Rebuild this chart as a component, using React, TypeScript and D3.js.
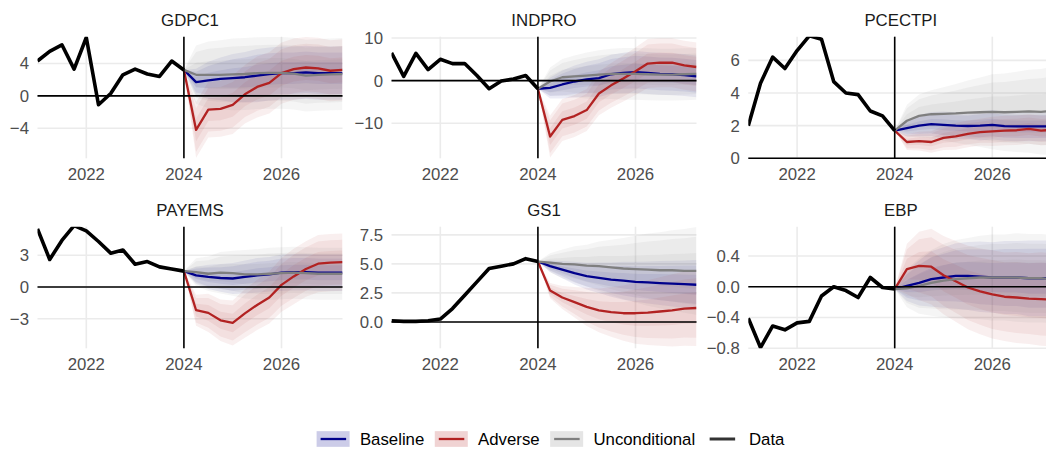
import React, { useEffect, useRef } from "react";
import * as d3 from "d3";

// quarterly dates (decimal years)
const dataQuarters = [2021, 2021.25, 2021.5, 2021.75, 2022, 2022.25, 2022.5, 2022.75, 2023, 2023.25, 2023.5, 2023.75, 2024];
const fcQuarters = [2024, 2024.25, 2024.5, 2024.75, 2025, 2025.25, 2025.5, 2025.75, 2026, 2026.25, 2026.5, 2026.75, 2027, 2027.25];
const xTicks = [2022, 2024, 2026];

// GDPC1
const gdpData = [4.3, 5.5, 6.3, 3.3, 7.2, -1.1, 0.3, 2.6, 3.3, 2.7, 2.4, 4.3, 3.2];
const gdpBaseline = [3.2, 1.7, 1.9, 2.1, 2.2, 2.3, 2.5, 2.7, 2.8, 2.8, 2.9, 2.8, 2.8, 2.8];
const gdpAdverse = [3.2, -4.2, -1.7, -1.6, -1.1, 0.2, 1.1, 1.6, 2.8, 3.3, 3.5, 3.4, 3.1, 3.2];
const gdpUncond = [3.2, 2.6, 2.6, 2.6, 2.65, 2.7, 2.8, 2.85, 2.85, 2.75, 2.5, 2.6, 2.65, 2.7];
const gdpBaselineSd = [0, 1.0, 1.4, 1.6, 1.8, 1.9, 2.0, 2.0, 2.0, 2.0, 2.0, 2.0, 2.0, 2.0];
const gdpAdverseSd = [0, 2.1, 2.1, 2.1, 2.2, 2.2, 2.3, 2.3, 2.3, 2.3, 2.3, 2.3, 2.3, 2.3];
const gdpUncondSd = [0, 2.2, 2.5, 2.6, 2.7, 2.7, 2.7, 2.7, 2.7, 2.7, 2.7, 2.7, 2.7, 2.7];

// INDPRO
const ipData = [6.5, 1.0, 6.4, 2.6, 5.0, 4.0, 4.0, 1.2, -1.9, -0.1, 0.4, 1.2, -1.9];
const ipBaseline = [-1.9, -1.7, -0.9, -0.2, 0.3, 0.6, 1.5, 1.8, 2.0, 1.8, 1.6, 1.5, 1.3, 1.0];
const ipAdverse = [-1.9, -13.1, -9.2, -8.3, -6.9, -3.0, -1.1, 0.5, 2.2, 4.0, 4.2, 4.2, 3.6, 3.2];
const ipUncond = [-1.9, -0.2, 0.8, 1.0, 1.2, 1.4, 1.6, 1.6, 1.6, 1.5, 1.4, 1.4, 1.5, 1.6];
const ipBaselineSd = [0, 1.5, 2.0, 2.3, 2.5, 2.7, 2.8, 2.9, 3.0, 3.0, 3.0, 3.0, 3.0, 3.0];
const ipAdverseSd = [0, 3.0, 3.0, 3.0, 3.0, 3.1, 3.2, 3.3, 3.4, 3.5, 3.5, 3.5, 3.5, 3.5];
const ipUncondSd = [0, 2.0, 2.6, 3.0, 3.3, 3.5, 3.6, 3.7, 3.7, 3.7, 3.7, 3.7, 3.7, 3.7];

// PCECTPI
const pceData = [2.0, 4.6, 6.2, 5.5, 6.6, 7.5, 7.3, 4.7, 4.0, 3.9, 2.9, 2.6, 1.7];
const pceBaseline = [1.7, 1.85, 2.0, 2.1, 2.05, 2.0, 1.98, 2.0, 2.05, 1.97, 1.95, 1.95, 1.95, 1.95];
const pceAdverse = [1.7, 1.0, 1.05, 1.0, 1.25, 1.35, 1.5, 1.6, 1.65, 1.7, 1.72, 1.8, 1.7, 1.75];
const pceUncond = [1.7, 2.3, 2.6, 2.7, 2.72, 2.75, 2.8, 2.82, 2.85, 2.82, 2.85, 2.88, 2.85, 2.9];
const pceBaselineSd = [0, 0.3, 0.4, 0.45, 0.5, 0.5, 0.5, 0.55, 0.55, 0.55, 0.55, 0.55, 0.55, 0.55];
const pceAdverseSd = [0, 0.3, 0.35, 0.4, 0.45, 0.5, 0.5, 0.5, 0.55, 0.55, 0.55, 0.55, 0.55, 0.55];
const pceUncondSd = [0, 0.6, 0.8, 0.9, 1.0, 1.1, 1.2, 1.3, 1.4, 1.45, 1.5, 1.55, 1.6, 1.65];

// PAYEMS
const payData = [5.5, 2.6, 4.4, 5.8, 5.3, 4.3, 3.2, 3.5, 2.15, 2.4, 1.9, 1.7, 1.5];
const payBaseline = [1.5, 1.1, 0.95, 0.85, 0.8, 0.95, 1.1, 1.2, 1.35, 1.4, 1.4, 1.35, 1.35, 1.35];
const payAdverse = [1.5, -2.2, -2.45, -3.15, -3.4, -2.5, -1.7, -1.0, 0.2, 1.0, 1.7, 2.2, 2.3, 2.35];
const payUncond = [1.5, 1.4, 1.25, 1.35, 1.3, 1.2, 1.2, 1.25, 1.3, 1.35, 1.3, 1.25, 1.25, 1.25];
const payBaselineSd = [0, 0.5, 0.7, 0.8, 0.9, 0.95, 1.0, 1.0, 1.05, 1.05, 1.05, 1.05, 1.05, 1.05];
const payAdverseSd = [0, 0.9, 1.1, 1.2, 1.3, 1.4, 1.45, 1.5, 1.55, 1.6, 1.6, 1.65, 1.65, 1.65];
const payUncondSd = [0, 0.8, 1.0, 1.2, 1.3, 1.4, 1.45, 1.5, 1.5, 1.5, 1.5, 1.5, 1.5, 1.5];

// GS1
const gsData = [0.1, 0.05, 0.05, 0.1, 0.25, 1.15, 2.3, 3.45, 4.6, 4.8, 5.0, 5.45, 5.2];
const gsBaseline = [5.2, 4.8, 4.5, 4.2, 3.95, 3.8, 3.65, 3.55, 3.45, 3.4, 3.35, 3.3, 3.25, 3.2];
const gsAdverse = [5.2, 2.7, 2.1, 1.7, 1.3, 1.0, 0.85, 0.75, 0.75, 0.8, 0.9, 1.0, 1.15, 1.2];
const gsUncond = [5.2, 5.1, 5.0, 4.95, 4.85, 4.8, 4.7, 4.6, 4.55, 4.5, 4.45, 4.45, 4.4, 4.4];
const gsBaselineSd = [0, 0.3, 0.45, 0.6, 0.7, 0.8, 0.9, 1.0, 1.05, 1.1, 1.15, 1.2, 1.25, 1.3];
const gsAdverseSd = [0, 0.4, 0.6, 0.8, 1.0, 1.15, 1.3, 1.45, 1.6, 1.7, 1.8, 1.9, 1.95, 2.0];
const gsUncondSd = [0, 0.5, 0.75, 0.95, 1.1, 1.3, 1.45, 1.6, 1.75, 1.9, 2.0, 2.1, 2.2, 2.3];

// EBP
const ebpData = [-0.41, -0.79, -0.51, -0.56, -0.47, -0.45, -0.12, 0.0, -0.05, -0.14, 0.12, -0.01, -0.03];
const ebpBaseline = [-0.03, 0.01, 0.05, 0.1, 0.12, 0.14, 0.14, 0.13, 0.12, 0.12, 0.12, 0.11, 0.11, 0.11];
const ebpAdverse = [-0.03, 0.23, 0.27, 0.26, 0.15, 0.07, -0.01, -0.06, -0.1, -0.13, -0.14, -0.155, -0.16, -0.17];
const ebpUncond = [-0.03, -0.02, 0.01, 0.05, 0.08, 0.1, 0.11, 0.12, 0.12, 0.12, 0.12, 0.11, 0.11, 0.1];
const ebpBaselineSd = [0, 0.12, 0.18, 0.22, 0.24, 0.26, 0.27, 0.28, 0.28, 0.29, 0.29, 0.3, 0.3, 0.3];
const ebpAdverseSd = [0, 0.2, 0.27, 0.3, 0.31, 0.32, 0.33, 0.34, 0.35, 0.35, 0.36, 0.36, 0.37, 0.37];
const ebpUncondSd = [0, 0.15, 0.22, 0.26, 0.29, 0.31, 0.32, 0.33, 0.34, 0.34, 0.35, 0.35, 0.35, 0.35];

// quantile multipliers for the three fan levels
const bandZ = [1.64, 1.28, 0.67];

const scenarioNames = ["Baseline", "Adverse", "Unconditional"];
const scenarioColors = ["#00008B", "#B22222", "#7F7F7F"];

const panels = [
  { title: "GDPC1", data: gdpData, fc: [gdpBaseline, gdpAdverse, gdpUncond], sd: [gdpBaselineSd, gdpAdverseSd, gdpUncondSd], yDomain: [-7.7, 7.3], ticks: [-4, 0, 4], fmt: d3.format("d") },
  { title: "INDPRO", data: ipData, fc: [ipBaseline, ipAdverse, ipUncond], sd: [ipBaselineSd, ipAdverseSd, ipUncondSd], yDomain: [-18.2, 10.3], ticks: [-10, 0, 10], fmt: d3.format("d") },
  { title: "PCECTPI", data: pceData, fc: [pceBaseline, pceAdverse, pceUncond], sd: [pceBaselineSd, pceAdverseSd, pceUncondSd], yDomain: [0, 7.45], ticks: [0, 2, 4, 6], fmt: d3.format("d") },
  { title: "PAYEMS", data: payData, fc: [payBaseline, payAdverse, payUncond], sd: [payBaselineSd, payAdverseSd, payUncondSd], yDomain: [-5.8, 5.7], ticks: [-3, 0, 3], fmt: d3.format("d") },
  { title: "GS1", data: gsData, fc: [gsBaseline, gsAdverse, gsUncond], sd: [gsBaselineSd, gsAdverseSd, gsUncondSd], yDomain: [-2.27, 8.2], ticks: [0, 2.5, 5, 7.5], fmt: d3.format(".1f") },
  { title: "EBP", data: ebpData, fc: [ebpBaseline, ebpAdverse, ebpUncond], sd: [ebpBaselineSd, ebpAdverseSd, ebpUncondSd], yDomain: [-0.8, 0.78], ticks: [-0.8, -0.4, 0, 0.4], fmt: d3.format(".1f") },
];

const FONT = "'Liberation Sans', Arial, Helvetica, sans-serif";
const FS = 16.8;

const App = () => {
  const svgRef = useRef<SVGSVGElement>(null);

  useEffect(() => {
    const svg = d3.select(svgRef.current);
    svg.selectAll("*").remove();

    const width = 1046, height = 450;
    const colLeft = [37.5, 391.5, 748.3];
    const rowTop = [36.7, 226.7];
    const panelW = 305;
    const panelH = 121.6;

    const defs = svg.append("defs");

    panels.forEach((p, i) => {
      const x0 = colLeft[i % 3];
      const y0 = rowTop[Math.floor(i / 3)];
      const x = d3.scaleLinear().domain([2021, 2027.25]).range([x0, x0 + panelW]);
      const y = d3.scaleLinear().domain(p.yDomain).range([y0 + panelH, y0]);

      defs.append("clipPath").attr("id", `clip-${i}`)
        .append("rect").attr("x", x0).attr("y", y0).attr("width", panelW).attr("height", panelH);

      const g = svg.append("g");

      // grid
      g.selectAll(".gy").data(p.ticks).enter().append("line")
        .attr("x1", x0).attr("x2", x0 + panelW)
        .attr("y1", d => y(d)).attr("y2", d => y(d))
        .attr("stroke", "#EBEBEB").attr("stroke-width", 1.6);
      g.selectAll(".gx").data(xTicks).enter().append("line")
        .attr("x1", d => x(d)).attr("x2", d => x(d))
        .attr("y1", y0).attr("y2", y0 + panelH)
        .attr("stroke", "#EBEBEB").attr("stroke-width", 1.6);

      // axis labels
      g.selectAll(".yl").data(p.ticks).enter().append("text")
        .attr("x", x0 - 8.5).attr("y", d => y(d)).attr("dy", "0.35em")
        .attr("text-anchor", "end").attr("fill", "#4D4D4D")
        .style("font-family", FONT).style("font-size", FS + "px")
        .text(d => p.fmt(d).replace("-", "\u2212"));
      g.selectAll(".xl").data(xTicks).enter().append("text")
        .attr("x", d => x(d)).attr("y", y0 + panelH + 21.7)
        .attr("text-anchor", "middle").attr("fill", "#4D4D4D")
        .style("font-family", FONT).style("font-size", FS + "px")
        .text(d => d);

      // strip title
      g.append("text")
        .attr("x", x0 + panelW / 2).attr("y", y0 - 10.7)
        .attr("text-anchor", "middle").attr("fill", "#1A1A1A")
        .style("font-family", FONT).style("font-size", FS + "px")
        .text(p.title);

      const plot = g.append("g").attr("clip-path", `url(#clip-${i})`);

      // fan bands
      p.fc.forEach((center, s) => {
        bandZ.forEach(z => {
          const area = d3.area<number>()
            .x((_, k) => x(fcQuarters[k]))
            .y0((c, k) => y(c - z * p.sd[s][k]))
            .y1((c, k) => y(c + z * p.sd[s][k]));
          plot.append("path").datum(center)
            .attr("d", area)
            .attr("fill", scenarioColors[s])
            .attr("fill-opacity", 0.075);
        });
      });

      // reference lines
      g.append("line")
        .attr("x1", x0).attr("x2", x0 + panelW)
        .attr("y1", y(0)).attr("y2", y(0))
        .attr("stroke", "black").attr("stroke-width", 1.6);
      g.append("line")
        .attr("x1", x(2024)).attr("x2", x(2024))
        .attr("y1", y0).attr("y2", y0 + panelH)
        .attr("stroke", "black").attr("stroke-width", 1.6);

      // forecast lines
      [0, 1, 2].forEach(s => {
        const line = d3.line<number>().x((_, k) => x(fcQuarters[k])).y(d => y(d));
        plot.append("path").datum(p.fc[s])
          .attr("d", line)
          .attr("fill", "none")
          .attr("stroke", scenarioColors[s])
          .attr("stroke-width", 2.3)
          .attr("stroke-linejoin", "round");
      });

      // history
      const hist = d3.line<number>().x((_, k) => x(dataQuarters[k])).y(d => y(d));
      plot.append("path").datum(p.data)
        .attr("d", hist)
        .attr("fill", "none")
        .attr("stroke", "black")
        .attr("stroke-width", 3.6)
        .attr("stroke-linejoin", "round");
    });

    // legend
    const legendItems = [
      ...scenarioNames.map((name, s) => ({ name, color: scenarioColors[s], fill: true })),
      { name: "Data", color: "#333333", fill: false },
    ];
    const keyW = 33, keyH = 15.7, keyGap = 10.3, itemGap = 10.5;
    const legY = 439;
    const leg = svg.append("g");
    let cx = 0;
    legendItems.forEach(item => {
      const it = leg.append("g").attr("transform", `translate(${cx},0)`);
      if (item.fill) {
        it.append("rect").attr("x", 0).attr("y", legY - keyH / 2).attr("width", keyW).attr("height", keyH)
          .attr("fill", item.color).attr("fill-opacity", 0.2);
      }
      it.append("line").attr("x1", 4).attr("x2", keyW - 3.5).attr("y1", legY).attr("y2", legY)
        .attr("stroke", item.color).attr("stroke-width", item.fill ? 2.3 : 3);
      const t = it.append("text")
        .attr("x", keyW + keyGap).attr("y", legY).attr("dy", "0.35em")
        .attr("fill", "#000")
        .style("font-family", FONT).style("font-size", FS + "px")
        .text(item.name);
      const tw = (t.node() as SVGTextElement).getComputedTextLength();
      cx += keyW + keyGap + tw + itemGap;
    });
    const total = cx - itemGap;
    leg.attr("transform", `translate(${550.5 - total / 2},0)`);

    svg.attr("width", width).attr("height", height);
  }, []);

  return (
    <div style={{ position: "fixed", left: 0, top: 0, width: 1046, height: 450, overflow: "hidden", background: "white" }}>
      <svg ref={svgRef} width={1046} height={450}></svg>
    </div>
  );
};

export default App;
